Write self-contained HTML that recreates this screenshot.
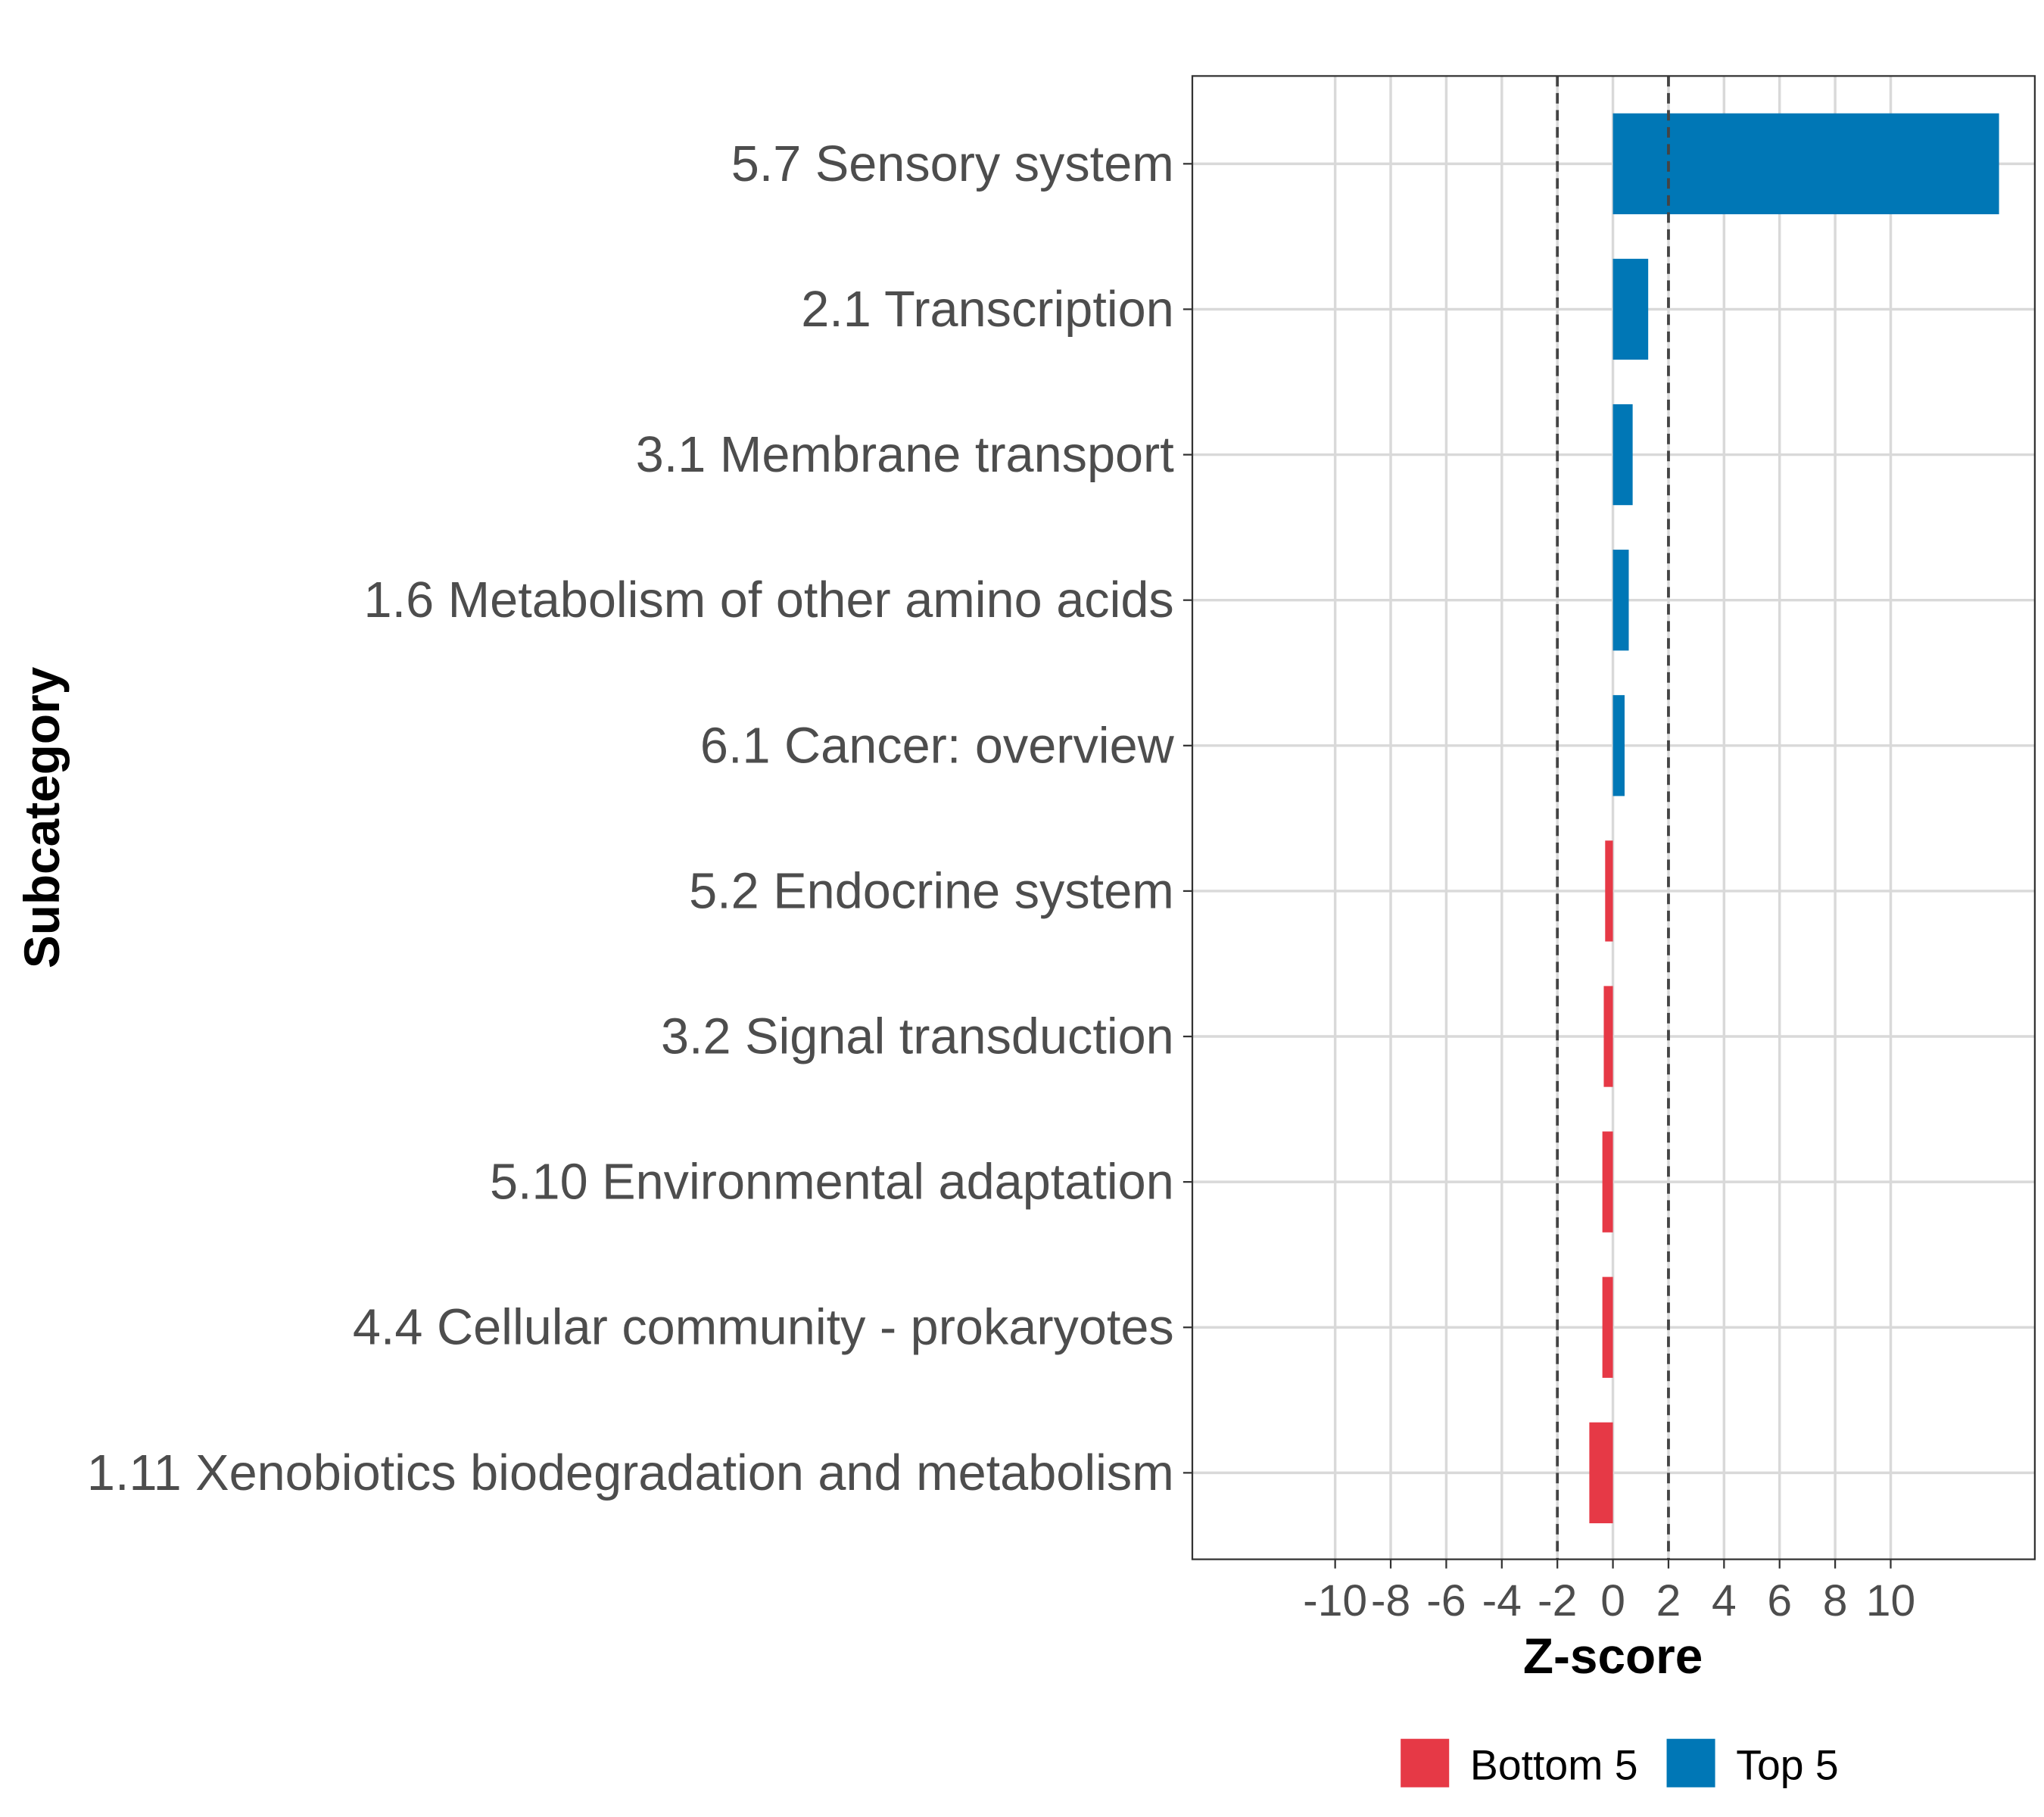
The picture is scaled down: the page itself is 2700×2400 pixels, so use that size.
<!DOCTYPE html>
<html><head><meta charset="utf-8"><style>
html,body{margin:0;padding:0;background:#fff;}
svg{display:block;font-family:"Liberation Sans",Arial,sans-serif;}
</style></head><body>
<svg id="chart" width="2700" height="2400" viewBox="0 0 1560 1386.67" xmlns="http://www.w3.org/2000/svg">
<g id="grid"></g>
<g id="bars"></g>
<g id="refs"></g>
<rect x="910" y="58" width="643" height="1132" fill="none" stroke="#333" stroke-width="1.3"/>
<g id="yaxis"></g>
<g id="xaxis"></g>
<text x="1231" y="1277" text-anchor="middle" font-size="38" font-weight="bold" fill="#000">Z-score</text>
<text transform="translate(45,624) rotate(-90)" text-anchor="middle" font-size="38" font-weight="bold" fill="#000">Subcategory</text>
<g>
<g>
<rect x="1069" y="1327" width="37" height="37" fill="#E63946"/>
<text x="1122" y="1358" font-size="32" fill="#000">Bottom 5</text></g>
<g>
<rect x="1272" y="1327" width="37" height="37" fill="#0077B6"/>
<text x="1325" y="1358" font-size="32" fill="#000">Top 5</text></g>
</g>
</svg>
<script>
const categories=["5.7 Sensory system","2.1 Transcription","3.1 Membrane transport","1.6 Metabolism of other amino acids","6.1 Cancer: overview","5.2 Endocrine system","3.2 Signal transduction","5.10 Environmental adaptation","4.4 Cellular community - prokaryotes","1.11 Xenobiotics biodegradation and metabolism"];
const zscores=[13.9,1.27,0.71,0.57,0.42,-0.28,-0.33,-0.38,-0.38,-0.85];
const groups=["Top 5","Top 5","Top 5","Top 5","Top 5","Bottom 5","Bottom 5","Bottom 5","Bottom 5","Bottom 5"];
const xTicks=[-10,-8,-6,-4,-2,0,2,4,6,8,10];
const thresholds=[-2,2];
const NS="http://www.w3.org/2000/svg";
const x=v=>1231+v*21.2;
const y=i=>125+i*111;
const bh=77;
function mk(t,a,p){const e=document.createElementNS(NS,t);for(const k in a)e.setAttribute(k,a[k]);p.appendChild(e);return e;}
const grid=document.getElementById('grid'),bars=document.getElementById('bars'),refs=document.getElementById('refs'),ya=document.getElementById('yaxis'),xa=document.getElementById('xaxis');
xTicks.forEach(t=>{
 const l=mk('line',{x1:x(t),x2:x(t),y1:58,y2:1190,stroke:'#d9d9d9','stroke-width':2},grid);
 
 
 mk('line',{x1:x(t),x2:x(t),y1:1190,y2:1197,stroke:'#333','stroke-width':1.3},xa);
 const tx=mk('text',{x:x(t),y:1233,'text-anchor':'middle','font-size':34,fill:'#4d4d4d'},xa);
 tx.textContent=t;
 
 
});
categories.forEach((c,i)=>{
 const l=mk('line',{x1:910,x2:1553,y1:y(i),y2:y(i),stroke:'#d9d9d9','stroke-width':2},grid);
 
 
 mk('line',{x1:903,x2:910,y1:y(i),y2:y(i),stroke:'#333','stroke-width':1.3},ya);
 const tx=mk('text',{x:896,y:y(i)+13,'text-anchor':'end','font-size':38.5,fill:'#4d4d4d'},ya);
 tx.textContent=c;
 
 
 const v=zscores[i];
 const r=mk('rect',{x:Math.min(x(0),x(v)),y:y(i)-bh/2,width:Math.abs(x(v)-x(0)),height:bh,fill:groups[i]==="Top 5"?'#0077B6':'#E63946'},bars);
 
 
});
thresholds.forEach(t=>{
 const l=mk('line',{x1:x(t),x2:x(t),y1:58,y2:1190,stroke:'#444','stroke-width':2.2,'stroke-dasharray':'8,5'},refs);
 
 
});
</script>
</body></html>
